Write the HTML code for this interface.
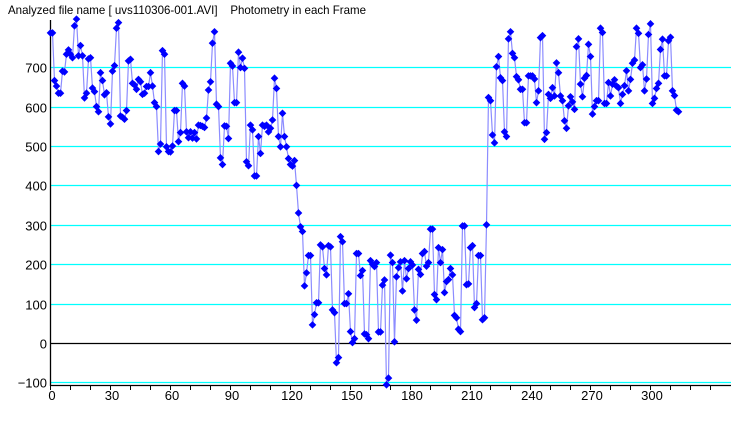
<!DOCTYPE html>
<html><head><meta charset="utf-8"><style>
html,body{margin:0;padding:0;background:#fff;}
svg{display:block;font-family:"Liberation Sans",sans-serif;}
</style></head><body>
<svg id="s" width="740" height="425" xmlns="http://www.w3.org/2000/svg">
<rect width="740" height="425" fill="#fff"/>
<text x="8" y="14" font-size="12" fill="#000" style="white-space:pre" textLength="358" lengthAdjust="spacingAndGlyphs">Analyzed file name [ uvs110306-001.AVI]    Photometry in each Frame</text>
<g id="grid"></g>
<g id="axes"></g>
<g id="data"></g>
</svg>
<script>
var vals=[787,787,666,652,634,634,690,688,733,744,
733,724,805,822,729,755,729,622,634,721,
724,647,638,600,587,686,666,630,635,574,
556,690,704,799,813,576,573,568,590,716,
720,659,655,644,669,663,631,634,651,651,
686,652,610,600,486,505,742,733,498,486,
485,500,590,590,511,534,659,652,536,521,
536,520,534,518,553,552,550,547,571,642,
663,761,790,606,600,470,453,551,550,519,
710,703,610,610,738,699,723,697,460,450,
553,541,424,424,524,481,553,550,553,536,
545,566,672,646,524,498,583,
524,498,468,453,449,463,400,330,
295,283,145,178,222,222,46,72,102,102,
249,244,189,173,247,244,84,77,-50,-37,
270,257,100,100,125,29,1,11,227,227,
171,184,23,21,11,209,200,194,204,28,
28,147,160,-106,-89,223,204,3,168,191,
206,132,209,163,189,206,198,84,58,187,
174,227,232,195,204,289,289,123,110,242,
204,237,128,156,161,189,173,70,64,35,
29,297,297,148,150,242,247,90,100,222,
222,59,64,300,
623,615,528,508,701,727,673,666,536,524,772,790,735,724,676,668,644,644,559,559,678,678,678,670,610,640,775,780,517,534,631,621,648,627,711,686,627,615,564,545,602,625,612,593,752,772,657,625,672,679,758,727,581,600,615,615,799,788,608,608,661,627,657,668,652,648,608,631,653,691,640,669,710,718,799,786,699,706,640,670,783,810,608,621,646,659,745,771,678,678,767,776,640,628,591,587];
var NS="http://www.w3.org/2000/svg";
function el(p,t,a,txt){var e=document.createElementNS(NS,t);for(var k in a)e.setAttribute(k,a[k]);if(txt!==undefined)e.textContent=txt;p.appendChild(e);return e;}
function Y(v){return 343-v*0.394;}
var g=document.getElementById('grid'),ax=document.getElementById('axes'),d=document.getElementById('data');
[-100,100,200,300,400,500,600,700].forEach(function(v){
 var y=Math.round(Y(v))+0.5;
 el(g,'line',{x1:51,x2:731,y1:y,y2:y,stroke:'#00ffff','stroke-width':1.3});
 el(ax,'text',{x:47,y:y+5,'font-size':13,'text-anchor':'end'},v===-100?'\u2212100':String(v));
});
el(g,'line',{x1:51,x2:731,y1:343.5,y2:343.5,stroke:'#000','stroke-width':1.3});
el(ax,'text',{x:47,y:348.5,'font-size':13,'text-anchor':'end'},'0');
el(ax,'line',{x1:50.5,x2:50.5,y1:20,y2:386,stroke:'#000','stroke-width':1.3});
el(ax,'line',{x1:50,x2:731,y1:385.5,y2:385.5,stroke:'#000','stroke-width':1.3});
for(var f=0;f<=330;f+=10){var x=50.5+2*f;el(ax,'line',{x1:x,x2:x,y1:385,y2:390,stroke:'#000','stroke-width':1});}
for(var f=0;f<=300;f+=30){el(ax,'text',{x:52+2*f,y:400,'font-size':13,'text-anchor':'middle'},String(f));}
var pts=vals.map(function(v,i){return (50.5+2*i)+','+Y(v).toFixed(1);}).join(' ');
el(d,'polyline',{points:pts,fill:'none',stroke:'#8c8cff','stroke-width':1.2});
vals.forEach(function(v,i){var x=50.5+2*i,y=Y(v);
 el(d,'polygon',{points:(x-3.8)+','+y+' '+x+','+(y-3.8)+' '+(x+3.8)+','+y+' '+x+','+(y+3.8),fill:'#0000ff'});});
</script>
</body></html>
